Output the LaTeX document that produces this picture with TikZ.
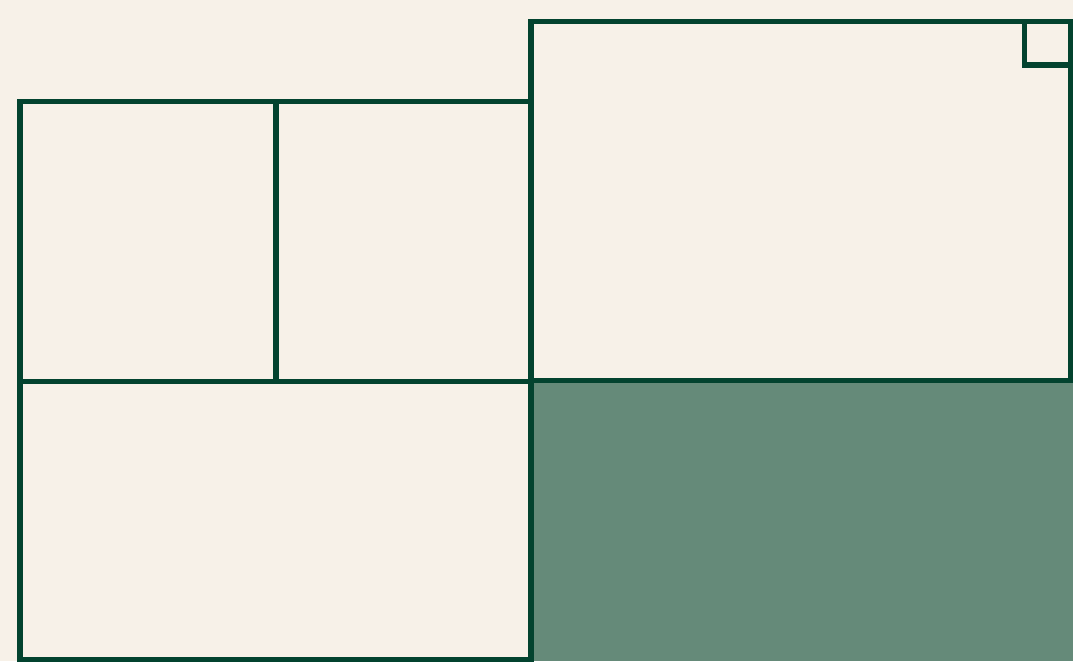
\documentclass[tikz,border=0pt]{standalone}
\begin{document}
\begin{tikzpicture}[x=0.75pt,y=-0.75pt,
  frame/.style={draw=linegreen,line width=3.9pt,line join=miter},
]
\definecolor{paper}{HTML}{F7F1E8}
\definecolor{linegreen}{HTML}{03432F}
\definecolor{fillgreen}{HTML}{658A79}
\useasboundingbox (0,0) rectangle (1073,661);
\fill[paper] (0,0) rectangle (1073,661);
% shaded quadrant
\fill[fillgreen] (531,381) rectangle (1073,661);
% left block
\draw[frame] (20,101.5) rectangle (531,660);
\draw[frame] (20,381.5) -- (531,381.5);
\draw[frame] (276,101.5) -- (276,381.5);
% right block
\draw[frame] (531,21.5) rectangle (1071,380.5);
\draw[frame] (1024.5,21.5) rectangle (1071,65);
\draw[frame] (531,380.5) -- (531,660);
\end{tikzpicture}
\end{document}
